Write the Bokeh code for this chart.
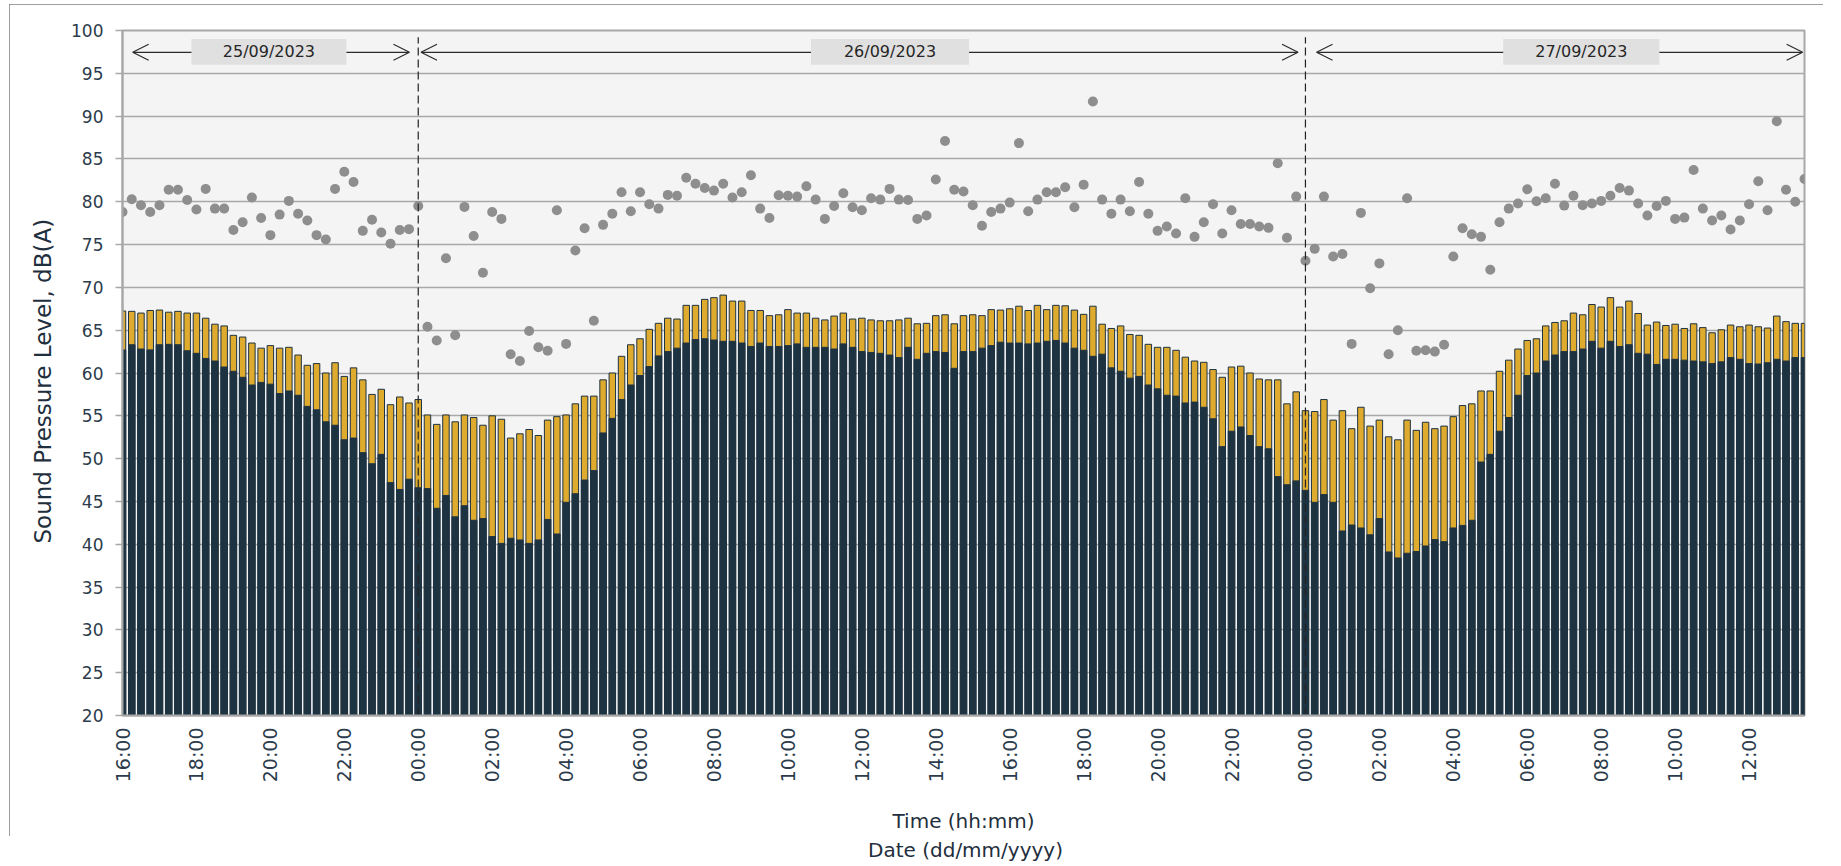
import math
from bokeh.plotting import figure
from bokeh.models import (Range1d, FixedTicker, Arrow, OpenHead, Label, BoxAnnotation,
                          ColumnDataSource, Title, Spacer)
from bokeh.layouts import column, row
from bokeh.embed import file_html
from bokeh.resources import INLINE

# ---------------- data (15-minute intervals, 25/09/2023 16:00 -> 27/09/2023 13:30) -------------
tick_labels = ["16:00", "18:00", "20:00", "22:00", "00:00", "02:00", "04:00", "06:00", "08:00",
               "10:00", "12:00", "14:00", "16:00", "18:00", "20:00", "22:00", "00:00", "02:00",
               "04:00", "06:00", "08:00", "10:00", "12:00"]
dates = ["25/09/2023", "26/09/2023", "27/09/2023"]

la90 = [62.7, 63.3, 62.8, 62.7, 63.3, 63.35, 63.3, 62.6, 62.3, 61.7, 61.4, 60.7, 60.2, 59.5, 58.6,
        58.9, 58.7, 57.6, 57.9, 57.4, 56.1, 55.7, 54.3, 53.9, 52.2, 52.4, 50.7, 49.4, 50.5, 47.2,
        46.4, 47.6, 46.6, 46.5, 44.2, 45.7, 43.2, 44.5, 42.8, 43.0, 40.9, 40.1, 40.7, 40.5, 40.1,
        40.5, 42.9, 41.2, 44.9, 45.9, 47.5, 48.6, 53.0, 54.7, 56.9, 58.6, 59.7, 60.75, 62.0, 62.5,
        62.9, 63.5, 63.9, 64.0, 63.85, 63.7, 63.7, 63.5, 63.1, 63.5, 63.1, 63.1, 63.2, 63.4, 63.0,
        63.0, 63.0, 62.8, 63.4, 63.0, 62.5, 62.4, 62.3, 62.1, 61.8, 63.0, 61.6, 62.3, 62.5, 62.4,
        60.55, 62.5, 62.5, 62.9, 63.2, 63.6, 63.5, 63.5, 63.4, 63.5, 63.7, 63.8, 63.5, 62.9, 62.65,
        61.95, 62.2, 60.6, 60.2, 59.4, 59.6, 58.6, 58.15, 57.4, 57.3, 56.5, 56.6, 56.0, 54.65, 51.4,
        53.2, 53.7, 52.7, 51.4, 51.15, 47.9, 46.95, 47.4, 46.3, 44.9, 45.8, 44.9, 41.55, 42.25, 41.9,
        41.1, 43.0, 39.1, 38.4, 38.95, 39.15, 39.8, 40.55, 40.3, 41.9, 42.2, 42.8, 49.6, 50.5, 53.2,
        54.8, 57.4, 59.7, 60.0, 61.4, 62.1, 62.5, 62.5, 62.8, 63.7, 62.9, 63.7, 63.1, 63.3, 62.3,
        62.2, 61.0, 61.6, 61.6, 61.5, 61.4, 61.3, 61.1, 61.3, 61.8, 61.6, 61.1, 61.05, 61.2, 61.6,
        61.4, 61.8, 61.8]

laeq = [67.24, 67.2, 67.0, 67.3, 67.35, 67.1, 67.2, 67.0, 67.0, 66.4, 65.7, 65.5, 64.4, 64.2, 63.5,
        62.9, 63.2, 62.9, 63.0, 62.1, 60.9, 61.1, 60.0, 61.2, 59.6, 60.6, 59.2, 57.5, 58.1, 56.3,
        57.2, 56.5, 56.9, 55.1, 54.0, 55.1, 54.3, 55.1, 54.8, 53.9, 55.0, 54.6, 52.4, 52.9, 53.4,
        52.7, 54.5, 54.9, 55.1, 56.4, 57.3, 57.3, 59.2, 60.0, 61.95, 63.3, 64.0, 65.1, 65.8, 66.4,
        66.3, 67.9, 67.9, 68.6, 68.8, 69.1, 68.4, 68.4, 67.3, 67.3, 66.7, 66.8, 67.4, 67.0, 67.0,
        66.4, 66.2, 66.65, 67.0, 66.3, 66.4, 66.2, 66.1, 66.1, 66.2, 66.4, 65.75, 65.8, 66.7, 66.8,
        65.75, 66.7, 66.8, 66.7, 67.4, 67.35, 67.5, 67.8, 67.3, 67.9, 67.4, 67.9, 67.85, 67.35, 66.85,
        67.8, 65.7, 65.2, 65.5, 64.5, 64.4, 63.35, 63.0, 63.0, 62.65, 61.85, 61.4, 61.25, 60.4, 59.5,
        60.7, 60.8, 60.0, 59.3, 59.2, 59.2, 56.4, 57.8, 55.6, 55.5, 56.9, 54.5, 55.6, 53.5, 56.0,
        53.8, 54.5, 52.55, 52.2, 54.5, 53.3, 54.25, 53.5, 53.8, 54.9, 56.2, 56.4, 57.9, 57.9, 60.2,
        61.5, 62.8, 63.8, 64.0, 65.5, 65.9, 66.1, 67.0, 66.8, 68.0, 67.7, 68.8, 67.7, 68.4, 66.95,
        65.6, 65.95, 65.55, 65.7, 65.2, 65.75, 65.3, 64.7, 65.05, 65.6, 65.4, 65.6, 65.4, 65.25, 66.65,
        66.0, 65.8, 65.8]

lmax = [78.8, 80.3, 79.6, 78.8, 79.6, 81.4, 81.4, 80.2, 79.1, 81.5, 79.2, 79.2, 76.7, 77.6, 80.5,
        78.1, 76.1, 78.5, 80.1, 78.6, 77.8, 76.1, 75.6, 81.5, 83.5, 82.3, 76.6, 77.9, 76.4, 75.1,
        76.7, 76.8, 79.5, 65.4, 63.8, 73.4, 64.4, 79.4, 76.0, 71.7, 78.8, 78.0, 62.2, 61.4, 64.9,
        63.0, 62.6, 79.0, 63.4, 74.3, 76.9, 66.1, 77.3, 78.6, 81.1, 78.9, 81.1, 79.7, 79.2, 80.8,
        80.7, 82.8, 82.1, 81.6, 81.3, 82.1, 80.5, 81.1, 83.1, 79.2, 78.1, 80.75, 80.7, 80.6, 81.8,
        80.25, 78.0, 79.5, 81.0, 79.35, 79.0, 80.4, 80.25, 81.5, 80.25, 80.2, 78.0, 78.4, 82.6, 87.1,
        81.4, 81.2, 79.6, 77.2, 78.8, 79.2, 79.9, 86.85, 78.9, 80.25, 81.1, 81.1, 81.7, 79.35, 82.0,
        91.7, 80.25, 78.6, 80.25, 78.9, 82.3, 78.6, 76.6, 77.1, 76.3, 80.4, 75.9, 77.6, 79.7, 76.3,
        79.0, 77.4, 77.4, 77.1, 76.95, 84.5, 75.8, 80.6, 73.1, 74.5, 80.6, 73.6, 73.9, 63.4, 78.7,
        69.9, 72.8, 62.2, 65.0, 80.4, 62.6, 62.65, 62.5, 63.3, 73.6, 76.9, 76.2, 75.9, 72.05, 77.6,
        79.2, 79.8, 81.45, 80.05, 80.4, 82.1, 79.55, 80.7, 79.6, 79.8, 80.1, 80.7, 81.6, 81.3, 79.8,
        78.4, 79.5, 80.1, 78.0, 78.15, 83.7, 79.2, 77.8, 78.4, 76.75, 77.8, 79.7, 82.4, 79.0, 89.4,
        81.4, 80.0, 82.65]

day_breaks = [32, 128]          # bar index of 00:00 on 26/09 and 27/09

# ---------------- styling ----------------
FONT = "DejaVu Sans"
TXT = "#2c3c4c"
TITLE = "#1f2f3d"
YELLOW = "#dfab2f"
NAVY = "#1e3342"
GRID = "#a8a8a8"

idx = list(range(len(la90)))
src = ColumnDataSource(dict(x=idx, la90=la90, laeq=laeq, lmax=lmax))

p = figure(width=1814, height=832, x_range=Range1d(0, len(idx) - 1), y_range=Range1d(20, 100),
           output_backend="svg", toolbar_location=None,
           min_border_left=113, min_border_right=19, min_border_top=26, min_border_bottom=118)
p.styles = {"outline": "1px solid #7f7f7f", "outline-offset": "-1px"}
p.background_fill_color = "#f4f4f4"
p.border_fill_color = "white"
p.outline_line_color = GRID
p.outline_line_width = 2

p.vbar(x="x", top="laeq", bottom=20, width=0.7, source=src,
       fill_color=YELLOW, line_color=NAVY, line_width=1)
p.vbar(x="x", top="la90", bottom=20, width=0.7, source=src,
       fill_color=NAVY, line_color=NAVY, line_width=1)
p.scatter(x="x", y="lmax", source=src, size=10, fill_color="#8e8e8e", line_color=None)

for b in day_breaks:
    p.segment(x0=[b], y0=[20], x1=[b], y1=[99.2], line_color="#222222", line_width=1.2,
              line_dash="8 4")

# axes
p.xaxis.ticker = FixedTicker(ticks=list(range(0, 8 * len(tick_labels), 8)))
p.xaxis.major_label_overrides = {8 * i: lab for i, lab in enumerate(tick_labels)}
p.xaxis.major_label_orientation = math.pi / 2
p.xaxis.major_tick_line_color = None
p.xaxis.minor_tick_line_color = None
p.xaxis.major_tick_out = 0
p.xaxis.major_label_standoff = 12
p.xaxis.axis_line_color = GRID
p.xaxis.axis_line_width = 2
p.xaxis.major_label_text_font = FONT
p.xaxis.major_label_text_font_size = "19px"
p.xaxis.major_label_text_color = TXT
p.xaxis.axis_label = "Time (hh:mm)"
p.xaxis.axis_label_standoff = 24
p.xaxis.axis_label_text_font = FONT
p.xaxis.axis_label_text_font_size = "20px"
p.xaxis.axis_label_text_font_style = "normal"
p.xaxis.axis_label_text_color = TITLE

p.yaxis.ticker = FixedTicker(ticks=list(range(20, 101, 5)))
p.yaxis.major_tick_out = 7
p.yaxis.major_tick_in = 0
p.yaxis.major_tick_line_color = GRID
p.yaxis.major_tick_line_width = 1.5
p.yaxis.minor_tick_line_color = None
p.yaxis.axis_line_color = GRID
p.yaxis.axis_line_width = 2
p.yaxis.major_label_standoff = 12
p.yaxis.major_label_text_font = FONT
p.yaxis.major_label_text_font_size = "17px"
p.yaxis.major_label_text_color = TXT

p.xgrid.grid_line_color = None
p.ygrid.ticker = FixedTicker(ticks=list(range(20, 101, 5)))
p.ygrid.grid_line_color = GRID
p.ygrid.grid_line_width = 1.4

# y-axis title (sits a little below the frame centre, as in the reference)
p.add_layout(Title(text="Sound Pressure Level, dB(A)", align="left", offset=172, standoff=26,
                   text_font=FONT, text_font_size="23px", text_font_style="normal",
                   text_color=TITLE), "left")

# day arrows and boxes
arrow_spans = [(1.1, 31.05), (32.3, 127.2), (129.2, 181.8)]
box_spans = [(7.46, 24.23), (74.5, 91.6), (149.4, 166.3)]
for (a0, a1) in arrow_spans:
    p.add_layout(Arrow(x_start=a0, x_end=a1, y_start=97.45, y_end=97.45,
                       line_color="#2b2b2b", line_width=1.2,
                       start=OpenHead(size=16, line_color="#2b2b2b", line_width=1.2),
                       end=OpenHead(size=16, line_color="#2b2b2b", line_width=1.2)))
for (b0, b1), d in zip(box_spans, dates):
    p.add_layout(BoxAnnotation(left=b0, right=b1, bottom=96.0, top=99.0,
                               fill_color="#e0e0e0", fill_alpha=1.0, line_color=None))
    p.add_layout(Label(x=(b0 + b1) / 2, y=97.5, text=d, text_align="center",
                       text_baseline="middle", text_font=FONT, text_font_size="16px",
                       text_color="#262626"))

# date caption below the bordered chart
p2 = figure(width=1823, height=26, x_range=Range1d(0, 1823), y_range=Range1d(0, 26),
            output_backend="svg", toolbar_location=None, min_border=0)
p2.axis.visible = False
p2.grid.visible = False
p2.outline_line_color = None
p2.add_layout(Label(x=965, y=13, text="Date (dd/mm/yyyy)", text_align="center",
                    text_baseline="middle", text_font=FONT, text_font_size="20px",
                    text_color=TITLE))

layout = column(Spacer(width=1823, height=4), row(Spacer(width=9, height=832), p), p2, spacing=0)
open("out.html", "w").write(file_html(layout, INLINE))
